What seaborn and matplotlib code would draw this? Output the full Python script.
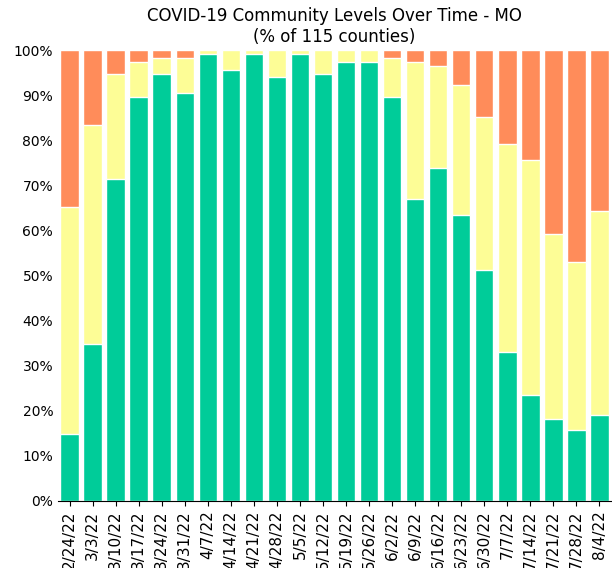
import numpy as np
import pandas as pd
import matplotlib
matplotlib.use("Agg")
import matplotlib.pyplot as plt
import seaborn as sns
from matplotlib.ticker import PercentFormatter

total_counties = 115

weeks = ["2/24/22", "3/3/22", "3/10/22", "3/17/22", "3/24/22", "3/31/22",
         "4/7/22", "4/14/22", "4/21/22", "4/28/22", "5/5/22", "5/12/22",
         "5/19/22", "5/26/22", "6/2/22", "6/9/22", "6/16/22", "6/23/22",
         "6/30/22", "7/7/22", "7/14/22", "7/21/22", "7/28/22", "8/4/22"]

# counties per community level
low = [17, 40, 82, 103, 109, 104, 114, 110, 114, 108, 114, 109,
       112, 112, 103, 77, 85, 73, 59, 38, 27, 21, 18, 22]
medium = [58, 56, 27, 9, 4, 9, 1, 5, 1, 7, 1, 6,
          3, 3, 10, 35, 26, 33, 39, 53, 60, 47, 43, 52]
high = [40, 19, 6, 3, 2, 2, 0, 0, 0, 0, 0, 0,
        0, 0, 2, 3, 4, 9, 17, 24, 28, 47, 54, 41]

df = pd.DataFrame({"week": weeks, "low": low, "medium": medium, "high": high})
df["low_pct"] = df["low"] / total_counties * 100
df["med_top"] = (df["low"] + df["medium"]) / total_counties * 100
df["high_top"] = (df["low"] + df["medium"] + df["high"]) / total_counties * 100

fig = plt.figure(figsize=(6.12, 5.68), dpi=100)
ax = fig.add_axes([58 / 612, 1 - 501 / 568, 553 / 612, 451 / 568])

# stacked bars drawn as overlapping cumulative bars
sns.barplot(data=df, x="week", y="high_top", color="#ff8c5a", saturation=1,
            width=0.8, edgecolor="white", linewidth=1, ax=ax)
sns.barplot(data=df, x="week", y="med_top", color="#fdfd96", saturation=1,
            width=0.8, edgecolor="white", linewidth=1, ax=ax)
sns.barplot(data=df, x="week", y="low_pct", color="#00cc99", saturation=1,
            width=0.8, edgecolor="white", linewidth=1, ax=ax)

ax.set_ylim(0, 100)
ax.set_xlim(-0.5, len(weeks) - 0.5)
ax.set_yticks(np.arange(0, 101, 10))
ax.yaxis.set_major_formatter(PercentFormatter(decimals=0))
ax.tick_params(axis="y", length=0, labelsize=10)
ax.tick_params(axis="x", rotation=90, labelsize=11)
for s in ["top", "right", "left"]:
    ax.spines[s].set_visible(False)
ax.set_xlabel("")
ax.set_ylabel("")
ax.set_title("COVID-19 Community Levels Over Time - MO\n(% of 115 counties)", fontsize=12)

plt.savefig("out.png", dpi=100)
